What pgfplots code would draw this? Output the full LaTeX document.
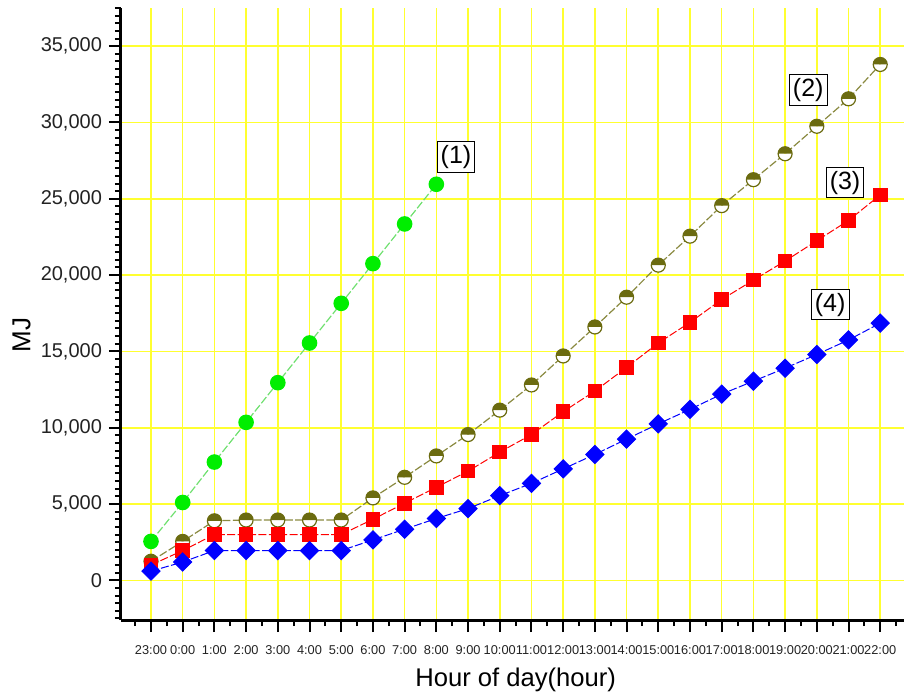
\documentclass[border=0pt]{standalone}
\usepackage{fontspec}
\setmainfont{Liberation Sans}
\usepackage{pgfplots}
\pgfplotsset{compat=1.18}
\usetikzlibrary{plotmarks}

\definecolor{gridyellow}{HTML}{FFFF30}
\definecolor{ptgreen}{HTML}{00EE00}
\definecolor{lngreen}{HTML}{70E070}
\definecolor{olivec}{HTML}{6B6B10}
\definecolor{lnolive}{HTML}{8A8A40}
\definecolor{ptred}{HTML}{FF0000}
\definecolor{ptblue}{HTML}{0000FF}
\definecolor{ticktext}{HTML}{222222}

% cumulative energy by hour, 23:00 = 0 ... 22:00 = 23
\pgfplotstableread{
x y
0 2550
1 5100
2 7750
3 10350
4 12950
5 15550
6 18150
7 20750
8 23350
9 25950
}\seriesone
\pgfplotstableread{
x y
0 1250
1 2550
2 3900
3 3950
4 3950
5 3950
6 3950
7 5400
8 6750
9 8150
10 9550
11 11150
12 12800
13 14700
14 16600
15 18550
16 20650
17 22550
18 24550
19 26250
20 27950
21 29750
22 31550
23 33800
}\seriestwo
\pgfplotstableread{
x y
0 1000
1 1950
2 3000
3 3000
4 3000
5 3000
6 3000
7 4000
8 5050
9 6100
10 7150
11 8400
12 9550
13 11050
14 12400
15 13950
16 15550
17 16900
18 18400
19 19670
20 20920
21 22250
22 23580
23 25250
}\seriesthree
\pgfplotstableread{
x y
0 600
1 1200
2 1950
3 1950
4 1950
5 1950
6 1950
7 2650
8 3350
9 4050
10 4700
11 5550
12 6350
13 7300
14 8250
15 9250
16 10250
17 11200
18 12200
19 13050
20 13900
21 14800
22 15750
23 16850
}\seriesfour

\begin{document}
\begin{tikzpicture}
\begin{axis}[
  name=ax,
  scale only axis,
  width=391.5pt, height=306pt,
  xmin=-0.946, xmax=23.75,
  ymin=-2600, ymax=37500,
  axis lines=left,
  axis line style={-, line width=1.5pt, black},
  clip=false,
  xtick={0,...,23},
  xticklabels={23:00,0:00,1:00,2:00,3:00,4:00,5:00,6:00,7:00,8:00,9:00,10:00,11:00,12:00,13:00,14:00,15:00,16:00,17:00,18:00,19:00,20:00,21:00,22:00},
  minor xtick={-0.5,0.5,...,23.5},
  ytick={0,5000,...,35000},
  minor ytick={-2500,-2000,...,37500},
  scaled y ticks=false,
  tick align=outside,
  major tick length=6pt,
  minor tick length=3pt,
  every tick/.style={black, line width=1pt},
  xmajorgrids, ymajorgrids,
  xminorgrids=false, yminorgrids=false,
  major grid style={gridyellow, line width=0.8pt},
  minor grid style={draw=none},
  /pgf/number format/.cd, 1000 sep={,}, fixed, assume math mode=true,
  /pgfplots/.cd,
  yticklabel={\pgfmathprintnumber{\tick}},
  xticklabel style={font=\fontsize{6.4}{7}\selectfont, text=ticktext, yshift=-3pt},
  yticklabel style={font=\fontsize{10}{12}\selectfont, text=ticktext},
]
\addplot[color=lngreen, line width=0.6pt, dash pattern=on 4pt off 1.2pt,
  mark=*, mark size=3.6pt, mark options={solid, draw=ptgreen, fill=ptgreen}]
  table[x=x,y=y] {\seriesone};
\addplot[color=lnolive, line width=0.6pt, dash pattern=on 4pt off 1.2pt,
  mark=halfcircle*, mark size=3.5pt,
  mark options={solid, rotate=180, draw=olivec, fill=white, mark color=olivec, line width=0.6pt}]
  table[x=x,y=y] {\seriestwo};
\addplot[color=ptred, line width=0.5pt, dash pattern=on 4pt off 1.2pt,
  mark=square*, mark size=3.4pt, mark options={solid, draw=ptred, fill=ptred}]
  table[x=x,y=y] {\seriesthree};
\addplot[color=ptblue, line width=0.5pt, dash pattern=on 4pt off 1.2pt,
  mark=square*, mark size=3.2pt, mark options={solid, rotate=45, draw=ptblue, fill=ptblue}]
  table[x=x,y=y] {\seriesfour};

\tikzset{tag/.style={draw=black, line width=0.5pt, fill=white, inner sep=1.8pt,
  font=\fontsize{12.5}{14}\selectfont}}
\node[tag] at (axis cs:9.62,27750) {(1)};
\node[tag] at (axis cs:20.73,32130) {(2)};
\node[tag] at (axis cs:21.89,26050) {(3)};
\node[tag] at (axis cs:21.42,18060) {(4)};

\node[rotate=90, font=\fontsize{13}{15}\selectfont] at (axis description cs:-0.127,0.466) {MJ};
\node[font=\fontsize{12.8}{15}\selectfont] at (axis description cs:0.504,-0.098) {Hour of day(hour)};
\end{axis}
\pgfresetboundingbox
\path[use as bounding box] ([shift={(-60.5pt,-38.5pt)}]ax.south west) rectangle ([shift={(392pt,310pt)}]ax.south west);
\end{tikzpicture}
\end{document}
